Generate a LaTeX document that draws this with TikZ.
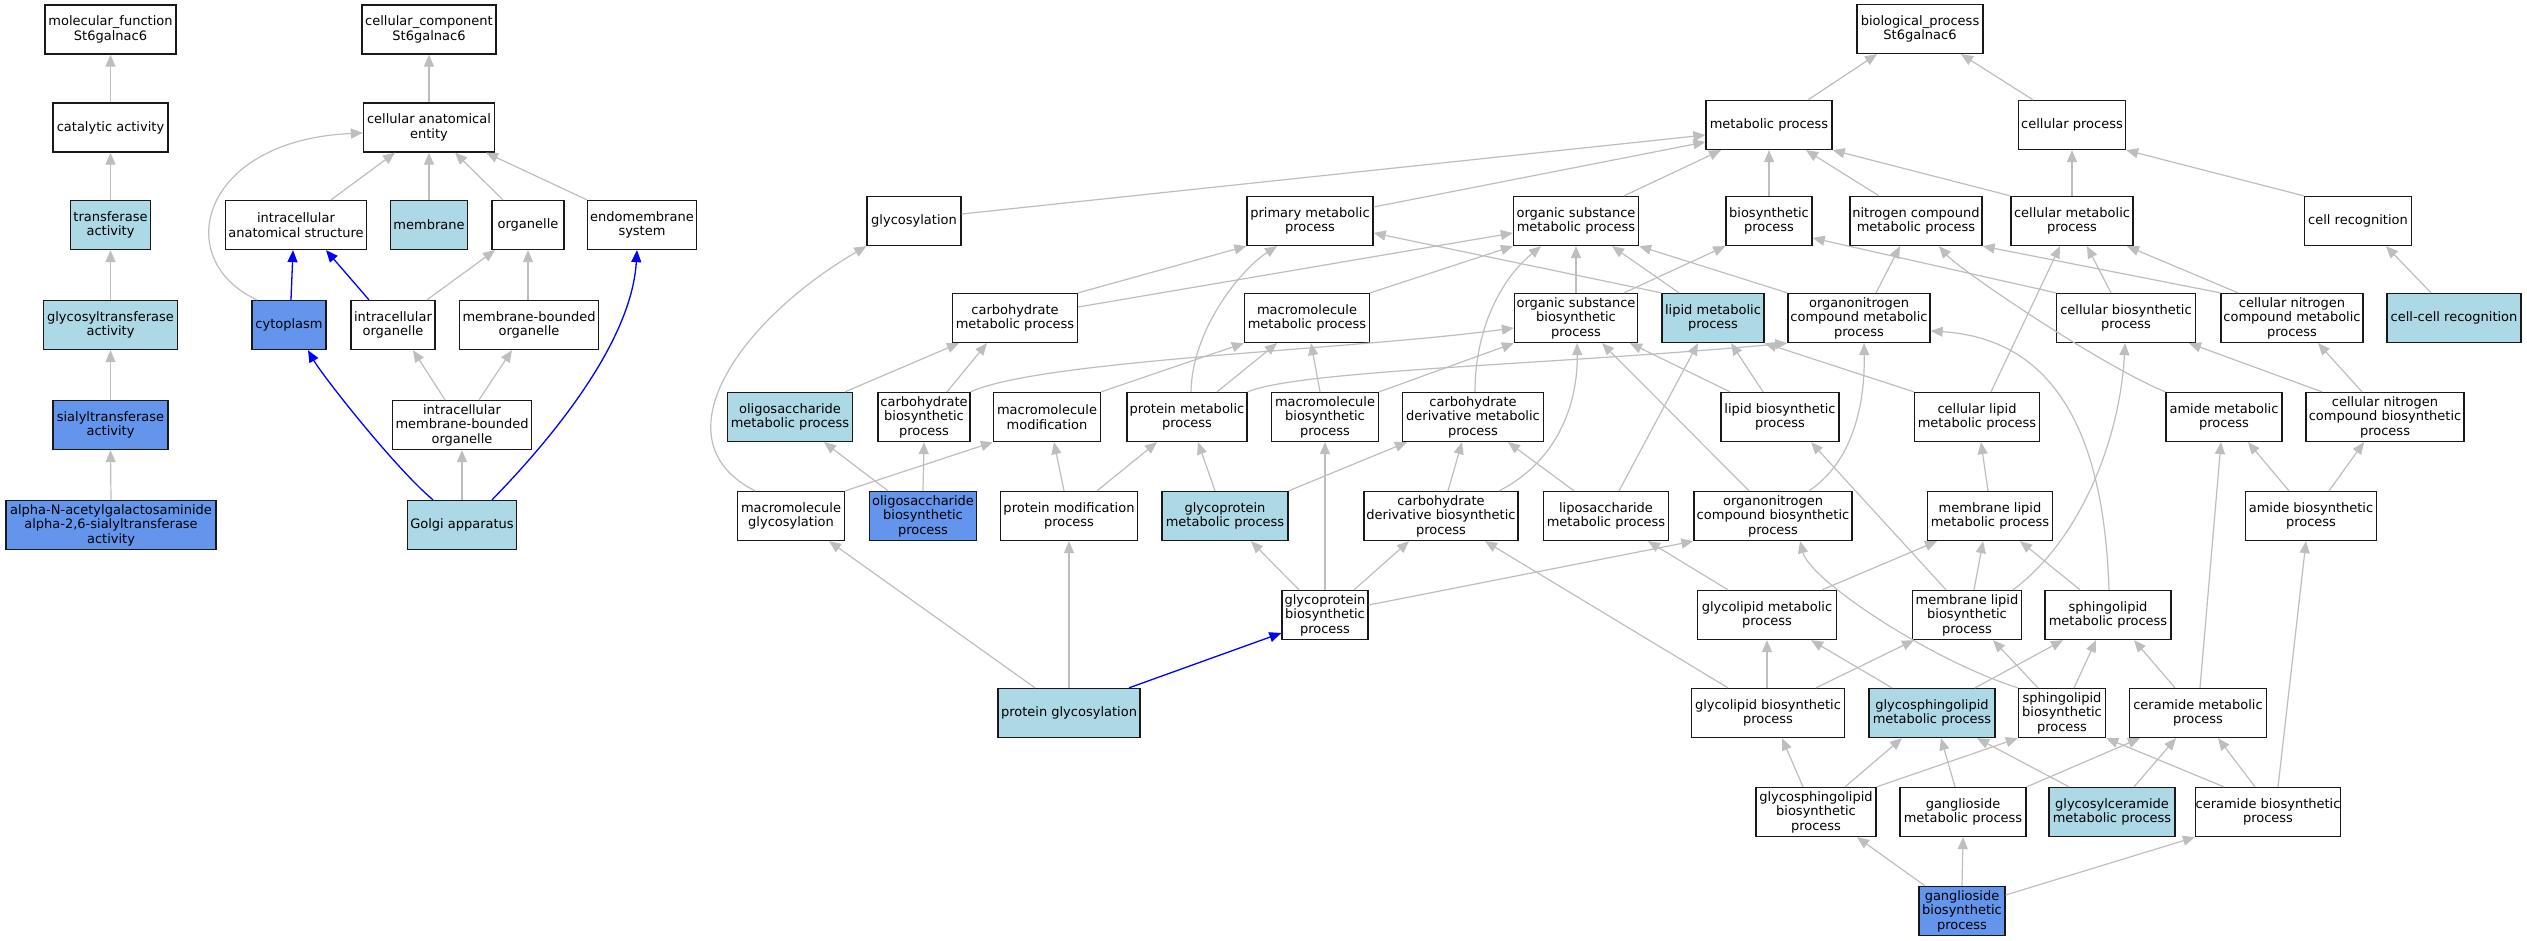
\documentclass[tikz,border=0pt]{standalone}
\usepackage{fontspec}
\setmainfont{DejaVu Sans}
\usetikzlibrary{arrows.meta}
\definecolor{lbfill}{HTML}{ADD8E6}
\definecolor{cffill}{HTML}{6495ED}
\definecolor{edgegray}{HTML}{BEBEBE}
\newcommand{\EdgeV}[5][g]{\draw[#1] ([xshift=#3pt]#2.north) -- ([xshift=#5pt]#4.south);}
\begin{document}
\begin{tikzpicture}[x=1pt,y=-1pt,
  box/.style={draw=black!90, line width=1.3pt, fill=white, inner sep=0pt, minimum height=49pt, align=center, font=\fontsize{13}{14.5}\selectfont},
  lb/.style={box, fill=lbfill},
  cf/.style={box, fill=cffill},
  g/.style={draw=edgegray, line width=1.2pt, -{Triangle[length=12pt,width=10pt]}},
  bl/.style={draw=blue, line width=1.3pt, -{Triangle[length=12pt,width=10pt]}}]
\useasboundingbox[fill=white] (0,0) rectangle (2527,941);
% molecular function
\node[box,minimum width=131pt] (mf) at (110.5,29.5) {molecular\_function\\St6galnac6};
\node[box,minimum width=115pt] (cat) at (110.5,127.5) {catalytic activity};
\node[lb,minimum width=80pt] (trans) at (110.5,225) {transferase\\activity};
\node[lb,minimum width=134pt] (glyt) at (110.5,325) {glycosyltransferase\\activity};
\node[cf,minimum width=115pt] (sialt) at (110.5,425) {sialyltransferase\\activity};
\node[cf,minimum width=210pt] (alpha) at (111,525) {alpha-N-acetylgalactosaminide\\alpha-2,6-sialyltransferase\\activity};
% cellular component
\node[box,minimum width=134pt] (cc) at (429,29.5) {cellular\_component\\St6galnac6};
\node[box,minimum width=131pt] (cae) at (429,127.5) {cellular anatomical\\entity};
\node[box,minimum width=141pt] (ias) at (296,225) {intracellular\\anatomical structure};
\node[lb,minimum width=77pt] (mem) at (429,225) {membrane};
\node[box,minimum width=72pt] (org) at (528,225) {organelle};
\node[box,minimum width=109pt] (endo) at (642,225) {endomembrane\\system};
\node[cf,minimum width=74pt] (cyto) at (289,325) {cytoplasm};
\node[box,minimum width=84pt] (io) at (393,325) {intracellular\\organelle};
\node[box,minimum width=139pt] (mbo) at (529,325) {membrane-bounded\\organelle};
\node[box,minimum width=139pt] (imbo) at (462,425) {intracellular\\membrane-bounded\\organelle};
\node[lb,minimum width=109pt] (golgi) at (462,525) {Golgi apparatus};
% biological process
\node[box,minimum width=126pt] (bp) at (1920,29) {biological\_process\\St6galnac6};
\node[box,minimum width=126pt] (met) at (1769,125) {metabolic process};
\node[box,minimum width=107pt] (cp) at (2072,125) {cellular process};
\node[box,minimum width=94pt] (glyc) at (914,221) {glycosylation};
\node[box,minimum width=126pt] (pmp) at (1310,221) {primary metabolic\\process};
\node[box,minimum width=125pt] (osmp) at (1576,221) {organic substance\\metabolic process};
\node[box,minimum width=86pt] (bio) at (1769,221) {biosynthetic\\process};
\node[box,minimum width=132pt] (ncmp) at (1916,221) {nitrogen compound\\metabolic process};
\node[box,minimum width=122pt] (cmp) at (2072,221) {cellular metabolic\\process};
\node[box,minimum width=107pt] (cr) at (2358,221) {cell recognition};
\node[box,minimum width=125pt] (chmp) at (1015,318) {carbohydrate\\metabolic process};
\node[box,minimum width=125pt] (mmp) at (1307,318) {macromolecule\\metabolic process};
\node[box,minimum width=123pt] (osbp) at (1576,318) {organic substance\\biosynthetic\\process};
\node[lb,minimum width=102pt] (lmp) at (1713,318) {lipid metabolic\\process};
\node[box,minimum width=142pt] (oncmp) at (1859,318) {organonitrogen\\compound metabolic\\process};
\node[box,minimum width=139pt] (cbp) at (2126,318) {cellular biosynthetic\\process};
\node[box,minimum width=142pt] (cncmp) at (2292,318) {cellular nitrogen\\compound metabolic\\process};
\node[lb,minimum width=134pt] (ccr) at (2454,318) {cell-cell recognition};
\node[lb,minimum width=125pt] (omp) at (790,417) {oligosaccharide\\metabolic process};
\node[box,minimum width=92pt] (chbp) at (924,417) {carbohydrate\\biosynthetic\\process};
\node[box,minimum width=107pt] (mmod) at (1047,417) {macromolecule\\modification};
\node[box,minimum width=120pt] (prmp) at (1187,417) {protein metabolic\\process};
\node[box,minimum width=107pt] (mbp) at (1325,417) {macromolecule\\biosynthetic\\process};
\node[box,minimum width=141pt] (cdmp) at (1473,417) {carbohydrate\\derivative metabolic\\process};
\node[box,minimum width=118pt] (lbp) at (1780,417) {lipid biosynthetic\\process};
\node[box,minimum width=125pt] (clmp) at (1977,417) {cellular lipid\\metabolic process};
\node[box,minimum width=116pt] (amp) at (2224,417) {amide metabolic\\process};
\node[box,minimum width=158pt] (cncbp) at (2385,417) {cellular nitrogen\\compound biosynthetic\\process};
\node[box,minimum width=107pt] (mgly) at (791,516) {macromolecule\\glycosylation};
\node[cf,minimum width=107pt] (obp) at (923,516) {oligosaccharide\\biosynthetic\\process};
\node[box,minimum width=137pt] (pmod) at (1069,516) {protein modification\\process};
\node[lb,minimum width=126pt] (gpmp) at (1225,516) {glycoprotein\\metabolic process};
\node[box,minimum width=154pt] (cdbp) at (1441,516) {carbohydrate\\derivative biosynthetic\\process};
\node[box,minimum width=125pt] (lsmp) at (1606,516) {liposaccharide\\metabolic process};
\node[box,minimum width=158pt] (oncbp) at (1773,516) {organonitrogen\\compound biosynthetic\\process};
\node[box,minimum width=125pt] (mlmp) at (1990,516) {membrane lipid\\metabolic process};
\node[box,minimum width=131pt] (abp) at (2311,516) {amide biosynthetic\\process};
\node[box,minimum width=86pt] (gpbp) at (1325,615) {glycoprotein\\biosynthetic\\process};
\node[box,minimum width=139pt] (glmp) at (1767,615) {glycolipid metabolic\\process};
\node[box,minimum width=109pt] (mlbp) at (1967,615) {membrane lipid\\biosynthetic\\process};
\node[box,minimum width=126pt] (slmp) at (2108,615) {sphingolipid\\metabolic process};
\node[lb,minimum width=142pt] (pgly) at (1069,713) {protein glycosylation};
\node[box,minimum width=153pt] (glbp) at (1768,713) {glycolipid biosynthetic\\process};
\node[lb,minimum width=126pt] (gslmp) at (1932,713) {glycosphingolipid\\metabolic process};
\node[box,minimum width=87pt] (slbp) at (2062,713) {sphingolipid\\biosynthetic\\process};
\node[box,minimum width=137pt] (cermp) at (2198,713) {ceramide metabolic\\process};
\node[box,minimum width=120pt] (gslbp) at (1816,812) {glycosphingolipid\\biosynthetic\\process};
\node[box,minimum width=126pt] (ganmp) at (1963,812) {ganglioside\\metabolic process};
\node[lb,minimum width=126pt] (gcmp) at (2112,812) {glycosylceramide\\metabolic process};
\node[box,minimum width=135pt] (cerbp) at (2268,812) {ceramide biosynthetic\\process};
\node[cf,minimum width=86pt] (ganbp) at (1962,911) {ganglioside\\biosynthetic\\process};
% MF edges
\EdgeV{cat}{0}{mf}{0}
\EdgeV{trans}{0}{cat}{0}
\EdgeV{glyt}{0}{trans}{0}
\EdgeV{sialt}{0}{glyt}{0}
\EdgeV{alpha}{0}{sialt}{0}
% CC edges
\EdgeV{cae}{0}{cc}{0}
\EdgeV{ias}{35}{cae}{-34}
\EdgeV{mem}{0}{cae}{0}
\EdgeV{org}{-25}{cae}{26}
\draw[g] (endo.north west) -- ([xshift=57pt]cae.south);
\draw[g] ([xshift=-32pt]cyto.north) .. controls (170,260) and (200,140) .. ([yshift=-5.5pt]cae.west);
\EdgeV[bl]{cyto}{2}{ias}{-3}
\EdgeV[bl]{io}{-24}{ias}{30}
\EdgeV{io}{34}{org}{-33}
\EdgeV{mbo}{-1}{org}{0}
\EdgeV{imbo}{-17}{io}{20}
\EdgeV{imbo}{17}{mbo}{-17}
\EdgeV{golgi}{0}{imbo}{0}
\draw[bl] ([xshift=-29pt]golgi.north) .. controls (395,468) and (322,375) .. ([xshift=19pt]cyto.south);
\draw[bl] ([xshift=30pt]golgi.north) .. controls (565,425) and (632,335) .. ([xshift=-5pt]endo.south);
% BP edges
\EdgeV{met}{39}{bp}{-43}
\EdgeV{cp}{-39}{bp}{41}
\draw[g] ([yshift=7pt]glyc.east) -- ([yshift=-10pt]met.west);
\draw[g] ([yshift=14pt]pmp.east) -- ([yshift=-17pt]met.west);
\EdgeV{osmp}{48}{met}{-48}
\EdgeV{bio}{0}{met}{0}
\EdgeV{ncmp}{-37}{met}{37}
\draw[g] (cmp.north west) -- (met.south east);
\EdgeV{cmp}{0}{cp}{0}
\draw[g] (cr.north west) -- (cp.south east);
\EdgeV{ccr}{-23}{cr}{28}
\draw[g] (chmp.north east) -- (pmp.south west);
\draw[g] ([yshift=11pt]chmp.east) -- ([yshift=-12pt]osmp.west);
\draw[g] (mmp.north east) -- (osmp.south west);
\draw[g] (lmp.north west) -- ([yshift=-12pt]pmp.east);
\EdgeV{lmp}{-34}{osmp}{36}
\draw[g] (oncmp.north west) -- (osmp.south east);
\EdgeV{osbp}{0}{osmp}{0}
\draw[g] ([xshift=48pt]osbp.north) -- (bio.south west);
\EdgeV{oncmp}{17}{ncmp}{-16}
\draw[g] (cbp.north west) -- ([yshift=-17pt]bio.east);
\EdgeV{cbp}{-15}{cmp}{15}
\draw[g] (cncmp.north west) -- (ncmp.south east);
\EdgeV{cncmp}{-54}{cmp}{55}
\draw[g] (clmp.north west) -- (lmp.south east);
\EdgeV{clmp}{14}{cmp}{-12}
\draw[g] (amp.north west) .. controls (2100,365) and (1960,270) .. ([xshift=23pt]ncmp.south);
\EdgeV{cncbp}{-63}{cbp}{63}
\EdgeV{cncbp}{-23}{cncmp}{26}
\EdgeV{chbp}{23}{chmp}{-28}
\draw[g] (chbp.north east) .. controls (1040,360) and (1350,350) .. ([yshift=-10pt]osbp.west);
\EdgeV{omp}{55}{chmp}{-56}
\draw[g] (mmod.north east) -- (mmp.south west);
\EdgeV{prmp}{30}{mmp}{-30}
\draw[g] ([xshift=4pt]prmp.north) .. controls (1192,330) and (1240,270) .. ([xshift=-33pt]pmp.south);
\draw[g] (prmp.north east) .. controls (1300,370) and (1550,365) .. (oncmp.south west);
\EdgeV{mbp}{-5}{mmp}{4}
\draw[g] (mbp.north east) -- (osbp.south west);
\draw[g] ([xshift=2pt]cdmp.north) .. controls (1475,330) and (1500,280) .. ([xshift=-35pt]osmp.south);
\EdgeV{lbp}{-17}{lmp}{18}
\EdgeV{lbp}{-50}{osbp}{54}
\draw[g] ([xshift=-36pt]mgly.north) .. controls (655,440) and (740,320) .. (glyc.south west);
\draw[g] (mgly.north east) -- (mmod.south west);
\EdgeV{obp}{-35}{omp}{34}
\EdgeV{obp}{0}{chbp}{0}
\EdgeV{pmod}{-5}{mmod}{7}
\EdgeV{pmod}{28}{prmp}{-30}
\EdgeV{gpmp}{-10}{prmp}{11}
\draw[g] (gpmp.north east) -- ([xshift=-66pt]cdmp.south);
\EdgeV{cdbp}{7}{cdmp}{-11}
\draw[g] ([xshift=58pt]cdbp.north) .. controls (1560,460) and (1578,400) .. ([xshift=1pt]osbp.south);
\EdgeV{lsmp}{-32}{cdmp}{35}
\EdgeV{lsmp}{13}{lmp}{-15}
\draw[g] ([xshift=36pt]oncbp.north) .. controls (1855,460) and (1865,400) .. ([xshift=5pt]oncmp.south);
\EdgeV{oncbp}{-24}{osbp}{26}
\EdgeV{mlmp}{-2}{clmp}{4}
\EdgeV{abp}{-22}{amp}{24}
\EdgeV{abp}{18}{cncbp}{-21}
\EdgeV{gpbp}{-26}{gpmp}{26}
\EdgeV{gpbp}{0}{mbp}{0}
\EdgeV{gpbp}{29}{cdbp}{-32}
\draw[g] ([yshift=10pt]gpbp.east) -- (oncbp.south west);
\EdgeV{glmp}{55}{mlmp}{-53}
\EdgeV{glmp}{-39}{lsmp}{42}
\EdgeV{mlbp}{-21}{lbp}{31}
\EdgeV{mlbp}{7}{mlmp}{-7}
\draw[g] ([xshift=46pt]mlbp.north) .. controls (2080,540) and (2120,440) .. ([xshift=-1pt]cbp.south);
\EdgeV{slmp}{-28}{mlmp}{30}
\draw[g] ([xshift=1pt]slmp.north) .. controls (2105,470) and (2075,340) .. ([yshift=-13pt]oncmp.east);
\EdgeV{pgly}{-34}{mgly}{38}
\EdgeV{pgly}{0}{pmod}{0}
\draw[bl] ([xshift=60pt]pgly.north) -- ([yshift=-18pt]gpbp.west);
\EdgeV{glbp}{-1}{glmp}{0}
\EdgeV{glbp}{48}{mlbp}{-53}
\EdgeV{glbp}{-40}{cdbp}{44}
\EdgeV{gslmp}{-40}{glmp}{44}
\EdgeV{gslmp}{43}{slmp}{-45}
\EdgeV{slbp}{12}{slmp}{-12}
\EdgeV{slbp}{-24}{mlbp}{26}
\draw[g] (slbp.north west) .. controls (1930,660) and (1810,580) .. ([xshift=27pt]oncbp.south);
\EdgeV{cermp}{-23}{slmp}{26}
\EdgeV{cermp}{2}{amp}{-3}
\EdgeV{gslbp}{-13}{glbp}{14}
\EdgeV{gslbp}{29}{gslmp}{-30}
\draw[g] (gslbp.north east) -- (slbp.south west);
\EdgeV{ganmp}{-8}{gslmp}{9}
\draw[g] (ganmp.north east) -- ([xshift=-58pt]cermp.south);
\EdgeV{gcmp}{-43}{gslmp}{45}
\EdgeV{gcmp}{22}{cermp}{-22}
\draw[g] ([xshift=-44pt]cerbp.north) -- (slbp.south east);
\EdgeV{cerbp}{-13}{cermp}{20}
\EdgeV{cerbp}{10}{abp}{-5}
\EdgeV{ganbp}{-37}{gslbp}{41}
\EdgeV{ganbp}{0}{ganmp}{0}
\draw[g] ([yshift=16pt]ganbp.east) -- (cerbp.south west);
\end{tikzpicture}
\end{document}
